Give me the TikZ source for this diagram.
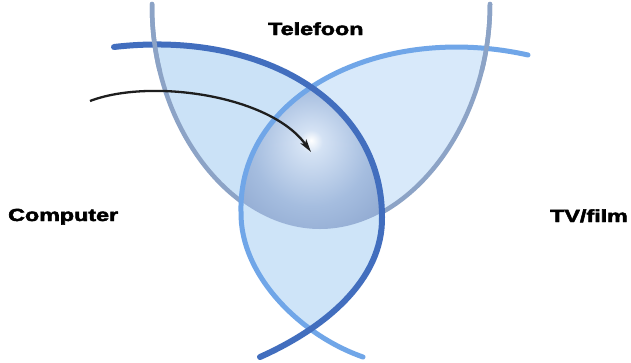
\documentclass[tikz,border=0pt]{standalone}
\usepackage{fontspec}
\usepackage{graphicx}
\setmainfont{Liberation Sans}
\newfontfamily\labfont{Liberation Sans}[FakeBold=2.5]
\usetikzlibrary{arrows.meta}
\definecolor{greyline}{RGB}{140,163,198}
\definecolor{darkline}{RGB}{66,110,190}
\definecolor{lightline}{RGB}{112,166,232}
\definecolor{petalL}{RGB}{203,226,247}
\definecolor{petalR}{RGB}{216,233,250}
\definecolor{petalB}{RGB}{206,228,248}
\definecolor{ctrhl}{RGB}{212,226,244}
\definecolor{ctrmid}{RGB}{165,189,223}
\definecolor{ctrdk}{RGB}{128,154,198}
\pgfdeclareradialshading{ctrshade}{\pgfpoint{0bp}{6bp}}{color(0bp)=(white); color(4bp)=(ctrhl); color(20bp)=(ctrmid); color(42bp)=(ctrdk); color(50bp)=(ctrdk)}
\newcommand\GreyP{(152,4) .. controls (151,125) and (230,229) .. (320,229) .. controls (410,229) and (490,125) .. (490,4)}
\newcommand\DarkP{(114,47) .. controls (260,30) and (382,100) .. (382,217) .. controls (383,280) and (325,328) .. (260,357)}
\newcommand\LightP{(528,55) .. controls (380,22) and (238,95) .. (241,212) .. controls (240,275) and (300,335) .. (363,357)}
\begin{document}
\begin{tikzpicture}[x=1pt,y=-1pt,
  lab/.style={font=\labfont\bfseries\fontsize{17.5}{20}\selectfont, inner sep=0pt, anchor=base west},
  greyl/.style={draw=greyline, line width=4.5pt, line cap=round},
  darkl/.style={draw=darkline, line width=6pt, line cap=round},
  lightl/.style={draw=lightline, line width=5pt, line cap=round}]
\useasboundingbox[fill=white] (0,0) rectangle (631,362);
% petals
\begin{scope}
  \clip \GreyP -- cycle;
  \fill[petalL] \DarkP -- cycle;
  \fill[petalR] \LightP -- cycle;
\end{scope}
\draw[greyl] \GreyP;
\begin{scope}
  \clip \DarkP -- cycle;
  \fill[petalB] \LightP -- cycle;
  \clip \LightP -- cycle;
  \clip \GreyP -- cycle;
  \shade[shading=ctrshade] (238,84) rectangle (384,232);
\end{scope}
\draw[lightl] \LightP;
\draw[darkl] \DarkP;
\begin{scope}
  \clip (0,0) rectangle (631,70);
  \draw[greyl] \GreyP;
\end{scope}
% arrow
\coordinate (arrS) at (90,101);
\coordinate (arrE) at (311,152);
\draw[line width=2.3pt, draw={rgb,255:red,30;green,30;blue,30}, -{Stealth[length=13pt,width=7pt,inset=3pt]}]
  (arrS) .. controls (150,78) and (270,95) .. (arrE);
% labels
\node[lab] (tel) at (268,35) {\scalebox{1.33}[1]{Telefoon}};
\node[lab] (comp) at (8,221) {\scalebox{1.33}[1]{Computer}};
\node[lab] (tv) at (550,222) {\scalebox{1.33}[1]{TV/film}};
\end{tikzpicture}
\end{document}
